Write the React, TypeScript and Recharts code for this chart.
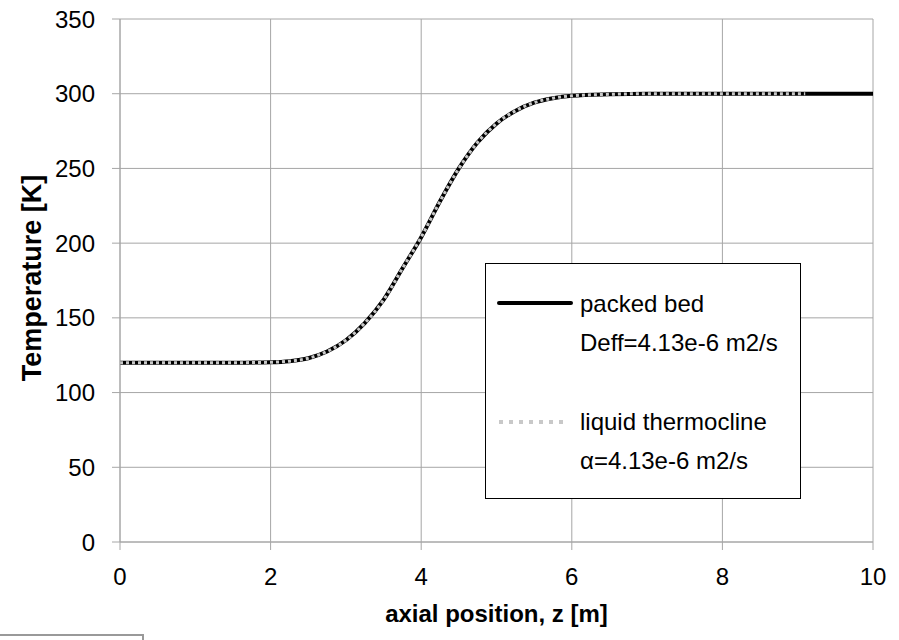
import React from "react";
import { LineChart, Line, XAxis, YAxis, CartesianGrid, Legend } from "recharts";

const zValues = [0, 0.5, 1, 1.5, 2, 2.25, 2.5, 2.75, 3, 3.25, 3.5, 3.75, 4, 4.25, 4.5, 4.75, 5, 5.25, 5.5, 5.75, 6, 6.5, 7, 8, 9, 9.1, 10];
const packedBed = [120, 120, 120, 120, 120.3, 121, 123, 127.5, 135, 146.5, 162, 183, 204, 228, 250, 267.5, 280, 288.5, 294, 297, 298.6, 299.6, 300, 300, 300, 300, 300];
const liquidThermocline = [120, 120, 120, 120, 120.3, 121, 123, 127.5, 135, 146.5, 162, 183, 204, 228, 250, 267.5, 280, 288.5, 294, 297, 298.6, 299.6, 300, 300, 300, 300, null];

const xTicks = [0, 2, 4, 6, 8, 10];
const yTicks = [0, 50, 100, 150, 200, 250, 300, 350];
const seriesNames = ["packed bed", "liquid thermocline"];
const seriesSubtitles = ["Deff=4.13e-6 m2/s", "\u03b1=4.13e-6 m2/s"];
const xTitle = "axial position, z [m]";
const yTitle = "Temperature [K]";

const data = zValues.map((z, i) => ({ z, packed: packedBed[i], liquid: liquidThermocline[i] }));

const FONT = "'Liberation Sans', Arial, sans-serif";
const GRID = "#a6a6a6";

const LegendBox = () => (
  <svg width={317} height={237} style={{ display: "block" }}>
    <rect x={0.5} y={0.5} width={315} height={235} fill="#fff" stroke="#000" strokeWidth={1} />
    <line x1={14} y1={40} x2={86} y2={40} stroke="#000" strokeWidth={4} strokeLinecap="round" />
    <text x={95} y={48.5} fontSize={24} fontFamily={FONT} fill="#000">{seriesNames[0]}</text>
    <text x={95} y={87.5} fontSize={24} fontFamily={FONT} fill="#000">{seriesSubtitles[0]}</text>
    <line x1={14} y1={159} x2={84} y2={159} stroke="#c8c8c8" strokeWidth={4} strokeDasharray="4 6" />
    <text x={95} y={166.5} fontSize={24} fontFamily={FONT} fill="#000">{seriesNames[1]}</text>
    <text x={95} y={205.5} fontSize={24} fontFamily={FONT} fill="#000">{seriesSubtitles[1]}</text>
  </svg>
);

const XTitle = (props: any) => {
  const { viewBox } = props;
  return (
    <text x={viewBox.x + viewBox.width / 2} y={622} textAnchor="middle" fontSize={24} fontWeight="bold" fontFamily={FONT} fill="#000">
      {xTitle}
    </text>
  );
};

const YTitle = () => (
  <text x={0} y={0} transform="translate(40.5, 278) rotate(-90)" textAnchor="middle" fontSize={27} fontWeight="bold" fontFamily={FONT} fill="#000">
    {yTitle}
  </text>
);

export default function App() {
  return (
    <div style={{ position: "absolute", left: 0, top: 0, width: 899, height: 640, overflow: "hidden", background: "#fff" }}>
      <LineChart width={899} height={640} data={data} margin={{ top: 19, right: 26, bottom: 0, left: 0 }} style={{ fontFamily: FONT }}>
        <CartesianGrid stroke={GRID} strokeWidth={1} />
        <XAxis
          type="number"
          dataKey="z"
          domain={[0, 10]}
          ticks={xTicks}
          height={98}
          stroke={GRID}
          tickSize={8}
          tickMargin={18}
          tick={{ fontSize: 24, fill: "#000", fontFamily: FONT }}
          label={<XTitle />}
        />
        <YAxis
          type="number"
          domain={[0, 350]}
          ticks={yTicks}
          width={120}
          stroke={GRID}
          tickSize={8}
          tickMargin={17}
          tick={{ fontSize: 24, fill: "#000", fontFamily: FONT }}
          label={<YTitle />}
        />
        <Line type="monotone" dataKey="packed" name={seriesNames[0]} stroke="#000" strokeWidth={4} dot={false} isAnimationActive={false} />
        <Line type="monotone" dataKey="liquid" name={seriesNames[1]} stroke="#c8c8c8" strokeWidth={3} strokeDasharray="3 3" dot={false} isAnimationActive={false} />
        <Legend
          layout="horizontal"
          verticalAlign="middle"
          align="center"
          content={() => <LegendBox />}
          wrapperStyle={{ position: "absolute", left: 485, top: 263, width: 317, height: 237 }}
        />
      </LineChart>
      <div style={{ position: "absolute", left: 0, top: 634, width: 144, height: 6, boxSizing: "border-box", borderTop: "2px solid #999", borderRight: "2px solid #999" }} />
    </div>
  );
}
